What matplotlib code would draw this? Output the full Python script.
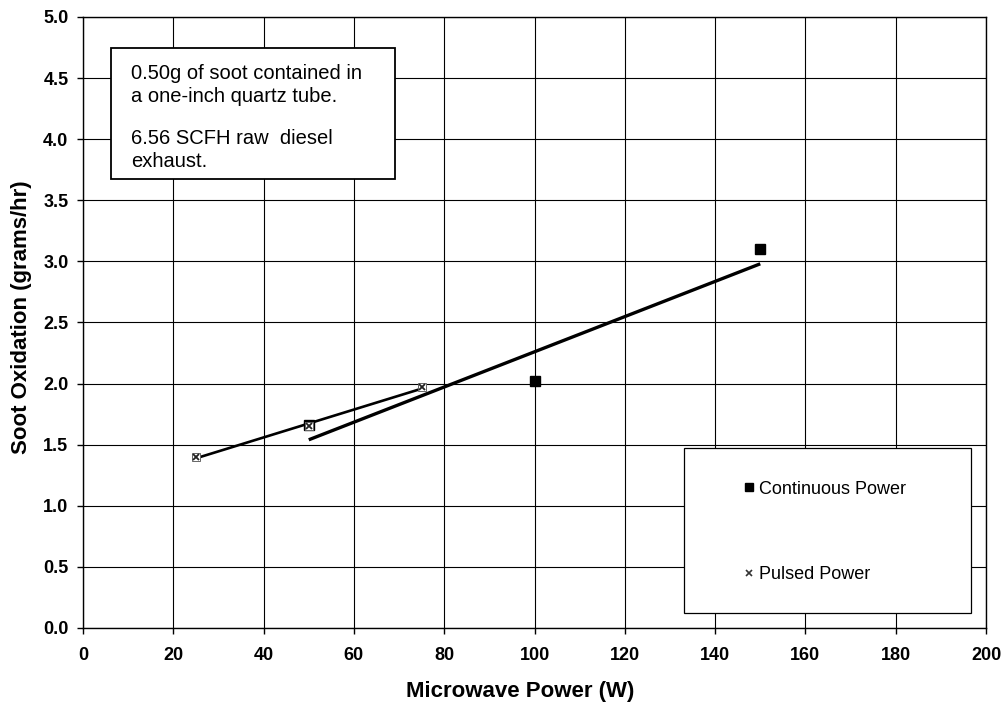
import numpy as np
import matplotlib.pyplot as plt
from matplotlib.lines import Line2D
from matplotlib.patches import Rectangle

plt.rcParams['font.family'] = ['Liberation Sans', 'DejaVu Sans']

# continuous power (the 50 W point sits under the pulsed marker)
cont_power = [50, 100, 150]
cont_oxid = [1.66, 2.02, 3.10]

# pulsed power
puls_power = [25, 50, 75]
puls_oxid = [1.40, 1.65, 1.97]

x_ticks = np.arange(0, 201, 20)
y_ticks = np.arange(0, 5.01, 0.5)

fig = plt.figure(figsize=(10.05, 7.06), dpi=100)
ax = fig.add_axes([0.0826, 0.1105, 0.8985, 0.8655])

# linear trend lines
for xs, ys, lw in [(cont_power, cont_oxid, 2.4), (puls_power, puls_oxid, 1.9)]:
    k, b = np.polyfit(xs, ys, 1)
    xx = np.array([min(xs), max(xs)])
    ax.plot(xx, k * xx + b, color='black', lw=lw, zorder=3, solid_capstyle='butt')

ax.plot(cont_power, cont_oxid, ls='none', marker='s', ms=7, color='black', zorder=4)
ax.plot(puls_power, puls_oxid, ls='none', marker='s', ms=6, mfc='white',
        mec='#666666', mew=0.7, zorder=5)
ax.plot(puls_power, puls_oxid, ls='none', marker='x', ms=5, color='#222222',
        mew=1.3, zorder=6)

ax.set_xlim(0, 200)
ax.set_ylim(0, 5)
ax.set_xticks(x_ticks)
ax.set_yticks(y_ticks)
ax.set_yticklabels([f'{v:.1f}' for v in y_ticks])
ax.grid(True, color='black', lw=0.8)
ax.set_axisbelow(True)
ax.tick_params(direction='out', length=4.5, width=1, labelsize=13)
ax.tick_params(axis='x', pad=9)
ax.tick_params(axis='y', pad=6)
for lab in ax.get_xticklabels() + ax.get_yticklabels():
    lab.set_fontweight('semibold')
for s in ax.spines.values():
    s.set_linewidth(1.0)

ax.set_xlabel('Microwave Power (W)', fontsize=16, fontweight='bold')
ax.set_ylabel('Soot Oxidation (grams/hr)', fontsize=16, fontweight='bold')
ax.xaxis.set_label_coords(0.4845, -0.086)
ax.yaxis.set_label_coords(-0.057, 0.509)

# note box
ax.add_patch(Rectangle((0.031, 0.735), 0.315, 0.214, transform=ax.transAxes,
                       facecolor='white', edgecolor='black', lw=1.3, zorder=7))
ax.text(0.053, 0.923, '0.50g of soot contained in\na one-inch quartz tube.',
        transform=ax.transAxes, fontsize=14.5, va='top', ha='left',
        linespacing=1.3, zorder=8)
ax.text(0.053, 0.817, '6.56 SCFH raw  diesel\nexhaust.',
        transform=ax.transAxes, fontsize=14.5, va='top', ha='left',
        linespacing=1.3, zorder=8)

# legend box
ax.add_patch(Rectangle((0.666, 0.025), 0.317, 0.27, transform=ax.transAxes,
                       facecolor='white', edgecolor='black', lw=0.9, zorder=7))
h_cont = Line2D([], [], ls='none', marker='s', ms=6, color='black')
h_puls = Line2D([], [], ls='none', marker='x', ms=5, color='#333333', mew=1.2)
leg = ax.legend([h_cont, h_puls], ['Continuous Power', 'Pulsed Power'],
                loc='center', bbox_to_anchor=(0.822, 0.157), frameon=False,
                fontsize=13, labelspacing=3.8, handlelength=0.5,
                handletextpad=0.3, alignment='left')
leg.set_zorder(8)

fig.savefig('out.png', dpi=100)
